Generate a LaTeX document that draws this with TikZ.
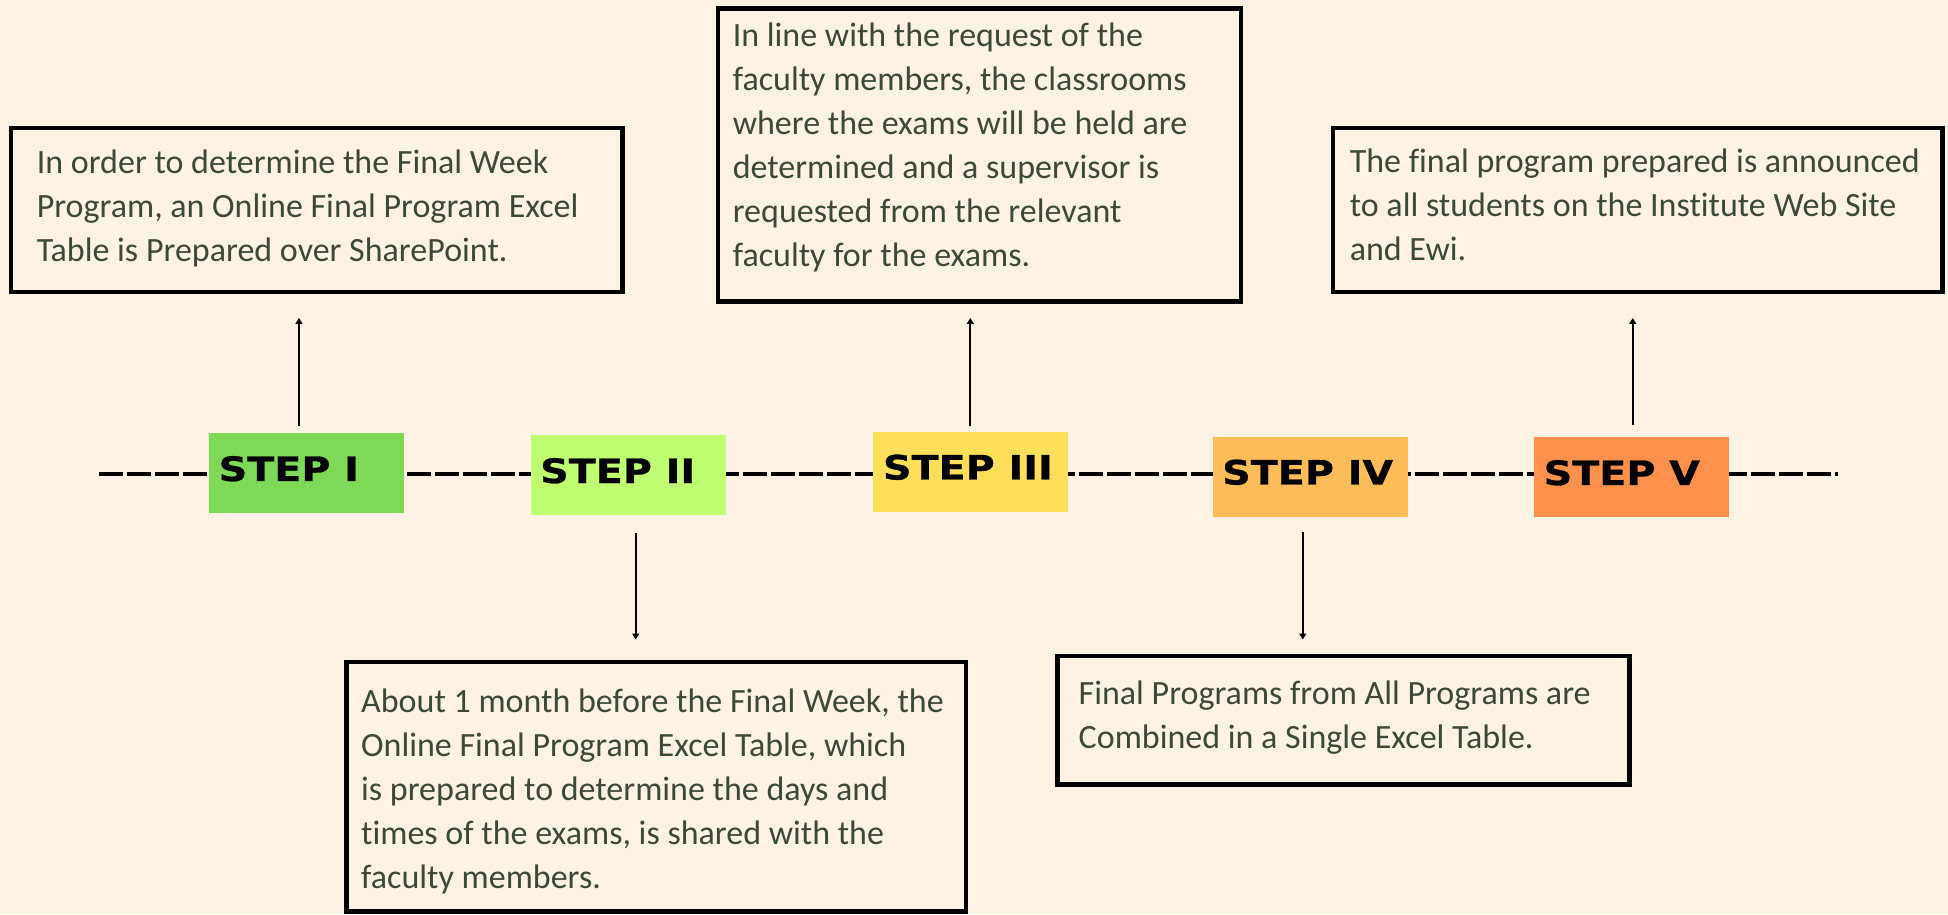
\documentclass[tikz,border=0pt]{standalone}
\usepackage{fontspec}
\setmainfont{Carlito}[Ligatures=NoCommon]
\newfontfamily\stepfont{DejaVu Sans}[FakeStretch=1.18,FakeBold=0.8]
\usetikzlibrary{arrows.meta}

\definecolor{paper}{HTML}{FEF2E4}
\definecolor{ink}{HTML}{3C4938}
\definecolor{stepA}{HTML}{7ED957}
\definecolor{stepB}{HTML}{C1FF72}
\definecolor{stepC}{HTML}{FFDE59}
\definecolor{stepD}{HTML}{FFBD59}
\definecolor{stepE}{HTML}{FF914D}

\tikzset{
  infobox/.style={draw=black, line width=4.5pt, fill=paper, inner sep=0pt,
    outer sep=0pt, anchor=north west},
  % multi-line text: the base anchor sits on the baseline of the last line
  infotext/.style={anchor=base west, align=left, inner sep=0pt, text=ink,
    font=\fontsize{34}{44}\selectfont},
  stepbox/.style={inner sep=0pt, outer sep=0pt, anchor=north west,
    minimum width=195pt, minimum height=79.5pt},
  steplabel/.style={anchor=base west, inner sep=0pt, text=black,
    font=\stepfont\bfseries\fontsize{33.6}{40}\selectfont},
  timeline/.style={line width=4.3pt, dash pattern=on 23.5pt off 4.5pt},
  pointer/.style={line width=2pt, -{Triangle[length=6pt,width=7pt]}}
}

\begin{document}
\begin{tikzpicture}[x=1pt,y=1pt]
  \useasboundingbox[fill=paper] (0,0) rectangle (1948,914);

  % dashed time line behind the steps
  \coordinate (lineL) at (99,440);
  \coordinate (lineR) at (1838,440);
  \draw[timeline] (lineL) -- (lineR);

  % steps
  \node[stepbox, fill=stepA] (s1) at (209,480.5) {};
  \node[stepbox, fill=stepB] (s2) at (530.5,478.5) {};
  \node[stepbox, fill=stepC] (s3) at (873.3,482) {};
  \node[stepbox, fill=stepD] (s4) at (1212.5,477) {};
  \node[stepbox, fill=stepE] (s5) at (1534,476.5) {};

  \node[steplabel] (l1) at ([shift={(9.5,-47.5)}]s1.north west) {STEP I};
  \node[steplabel] (l2) at ([shift={(9.5,-47.5)}]s2.north west) {STEP II};
  \node[steplabel] (l3) at ([shift={(9.5,-47.5)}]s3.north west) {STEP III};
  \node[steplabel] (l4) at ([shift={(9.5,-47.5)}]s4.north west) {STEP IV};
  \node[steplabel] (l5) at ([shift={(9.5,-47.5)}]s5.north west) {STEP V};

  % description boxes
  \node[infobox, minimum width=611.3pt, minimum height=163.9pt] (b1) at (11.2,786) {};
  \node[infobox, minimum width=619.5pt, minimum height=249.5pt] (b2) at (346.5,252) {};
  \node[infobox, minimum width=522.9pt, minimum height=293pt] (b3) at (718.1,905.5) {};
  \node[infobox, minimum width=572pt, minimum height=128.5pt] (b4) at (1057.5,258) {};
  \node[infobox, minimum width=609.5pt, minimum height=164pt] (b5) at (1333,786) {};

  \node[infotext] (t1) at ([shift={(25.4,-134)}]b1.north west)
    {In order to determine the Final Week\\Program, an Online Final Program Excel\\Table is Prepared over SharePoint.};
  \node[infotext] (t2) at ([shift={(14.5,-226)}]b2.north west)
    {About 1 month before the Final Week, the\\Online Final Program Excel Table, which\\is prepared to determine the days and\\times of the exams, is shared with the\\faculty members.};
  \node[infotext] (t3) at ([shift={(14.5,-257.9)}]b3.north west)
    {In line with the request of the\\faculty members, the classrooms\\where the exams will be held are\\determined and a supervisor is\\requested from the relevant\\faculty for the exams.};
  \node[infotext] (t4) at ([shift={(21,-92)}]b4.north west)
    {Final Programs from All Programs are\\Combined in a Single Excel Table.};
  \node[infotext] (t5) at ([shift={(16.6,-133)}]b5.north west)
    {The final program prepared is announced\\to all students on the Institute Web Site\\and Ewi.};

  % pointers from the steps to their descriptions
  \draw[pointer, shorten <=7.6pt, shorten >=26pt]
    ([xshift=-7.5pt]s1.north) -- ([xshift=-7.5pt]s1.north |- b1.south);
  \draw[pointer, shorten <=18pt, shorten >=22.5pt]
    ([xshift=7.75pt]s2.south) -- ([xshift=7.75pt]s2.south |- b2.north);
  \draw[pointer, shorten <=6pt, shorten >=16.5pt]
    ([xshift=-0.5pt]s3.north) -- ([xshift=-0.5pt]s3.north |- b3.south);
  \draw[pointer, shorten <=15pt, shorten >=16.5pt]
    ([xshift=-7.25pt]s4.south) -- ([xshift=-7.25pt]s4.south |- b4.north);
  \draw[pointer, shorten <=12pt, shorten >=26pt]
    ([xshift=1.25pt]s5.north) -- ([xshift=1.25pt]s5.north |- b5.south);
\end{tikzpicture}
\end{document}
